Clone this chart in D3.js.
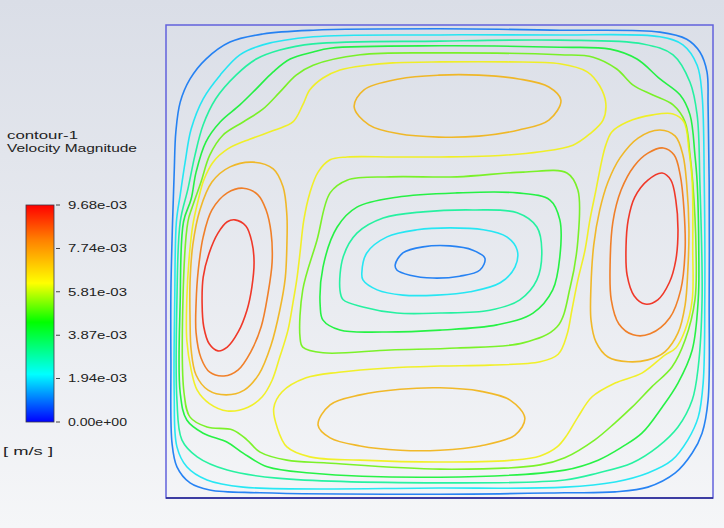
<!DOCTYPE html>
<html>
<head>
<meta charset="utf-8">
<script src="https://cdn.jsdelivr.net/npm/d3@7"></script>
<style>
  html, body { margin: 0; padding: 0; overflow: hidden; background: #eceef3; }
  svg { display: block; }
</style>
</head>
<body>
<svg id="chart" width="724" height="528"></svg>
<script>
// Velocity magnitude, values in units of 1e-3 m/s
const vMax = 9.68;
const contourLevels = [0.97, 2.02, 3.08, 4.13, 5.18, 6.24, 7.29, 8.34, 9.40];

// Colour map (fraction of range -> colour)
const colorStops = [0, 0.22, 0.46, 0.64, 0.84, 1];
const colorHex = ['#0000ff', '#00ffff', '#00ff00', '#ffff00', '#ff8000', '#ff0000'];

// Colour-bar ticks (1e-3 m/s)
const tickValues = [0, 1.94, 3.87, 5.81, 7.74, 9.68];

// Contour rings: [level index, points as [x %, y %] of the cavity, y measured from the bottom wall]
// Rings that follow the four walls
const wallRings = [
  [0, [[1.2,58.4],[1.5,68.9],[1.8,77.4],[2.6,83.7],[4.4,88.6],[7.3,92.8],[11.7,96.4],[17.7,98.1],[26.9,98.9],[50.1,99.2],[72.0,98.9],[90.3,98.5],[95.2,97.0],[97.6,94.3],[98.9,90.1],[99.1,83.1],[99.3,66.8],[99.3,41.9],[99.1,20.7],[98.0,13.7],[96.2,9.5],[93.1,5.3],[88.1,2.3],[82.1,1.3],[72.9,1.1],[50.1,0.8],[17.2,1.1],[8.0,1.7],[4.4,3.2],[2.0,6.6],[1.1,11.6],[0.9,29.2],[0.9,44.0]]],
  [1, [[1.9,58.4],[2.6,64.1],[3.5,71.0],[4.6,78.0],[6.8,84.4],[9.9,89.4],[13.5,93.7],[17.7,95.8],[26.9,97.5],[50.1,97.9],[72.0,97.9],[90.3,97.5],[94.5,95.8],[97.1,91.5],[98.0,85.2],[98.4,66.8],[98.5,41.9],[98.2,24.3],[97.3,17.1],[95.4,12.3],[92.5,8.0],[88.1,5.3],[82.1,3.4],[72.9,2.3],[50.1,2.1],[14.1,2.3],[7.5,3.8],[3.8,6.6],[2.0,10.8],[1.5,22.2],[1.6,41.9]]],
  [2, [[2.6,58.4],[4.0,65.3],[5.3,72.5],[6.8,78.9],[9.1,84.4],[12.8,89.4],[16.5,92.8],[20.8,94.7],[26.9,96.0],[50.1,96.6],[72.0,96.8],[87.2,96.0],[92.7,93.7],[95.8,87.9],[97.1,81.0],[97.6,66.8],[98.0,41.9],[97.3,27.7],[96.2,20.7],[93.6,15.0],[89.9,10.8],[85.2,7.4],[79.0,5.3],[72.9,3.8],[50.1,3.2],[20.3,4.2],[11.2,5.9],[5.7,8.7],[2.9,12.3],[2.0,20.7],[2.0,41.9]]],
  [3, [[3.2,58.4],[4.6,63.2],[5.5,68.9],[7.3,75.3],[9.9,79.5],[13.5,83.1],[16.5,86.5],[19.6,90.1],[22.7,92.8],[26.9,94.3],[30.0,95.1],[50.1,95.6],[72.0,95.3],[81.2,94.9],[86.1,92.8],[90.3,88.6],[94.0,85.2],[95.8,81.0],[96.7,72.5],[97.1,66.8],[97.4,52.4],[97.3,41.9],[96.2,31.3],[93.6,24.3],[90.7,19.2],[87.0,13.7],[83.4,10.8],[79.0,8.0],[72.9,5.9],[50.1,4.4],[26.3,5.3],[18.5,6.6],[14.1,9.5],[11.2,11.8],[6.8,13.7],[3.8,16.5],[2.6,22.2],[2.6,41.9]]],
  [4, [[4.0,58.4],[4.8,61.5],[6.4,66.8],[8.0,72.5],[10.4,76.7],[14.1,79.5],[17.7,82.2],[20.8,85.8],[23.8,89.4],[26.9,91.5],[35.5,93.7],[50.1,94.1],[72.0,93.7],[78.1,93.2],[82.4,90.7],[85.4,87.3],[89.0,85.2],[92.7,83.1],[94.9,79.5],[95.8,72.5],[96.3,66.8],[96.9,52.4],[96.7,41.9],[94.9,33.4],[92.5,27.7],[88.8,23.5],[85.2,19.2],[82.1,15.9],[78.4,12.3],[72.9,8.5],[68.4,7.0],[50.1,6.1],[29.4,7.4],[22.1,8.0],[17.2,9.7],[14.8,12.3],[12.2,14.4],[7.5,15.0],[4.4,17.1],[3.3,22.2],[3.1,41.9]]]
];

// Rings around the slow core of the cavity
const coreRings = [
  [0, [[41.9,49.3],[43.3,51.8],[47.0,53.1],[51.9,53.3],[56.1,52.4],[58.3,50.7],[57.4,48.2],[53.7,46.9],[48.8,46.5],[44.6,47.1],[42.2,48.2]]],
  [1, [[35.8,47.6],[36.7,51.8],[40.4,55.2],[45.9,56.7],[51.9,57.1],[58.0,56.7],[62.3,55.2],[64.2,52.4],[63.8,48.8],[61.1,45.5],[55.6,43.6],[49.5,42.9],[43.3,42.9],[38.6,44.0],[36.0,46.1]]],
  [2, [[31.8,44.0],[32.4,51.0],[34.9,56.0],[39.7,59.2],[47.0,60.5],[56.1,60.9],[64.2,60.3],[67.8,57.3],[68.7,52.4],[67.8,46.1],[64.7,41.9],[59.2,39.7],[50.1,39.1],[42.2,39.1],[36.0,40.4],[32.4,41.9]]],
  [3, [[28.2,40.4],[28.7,48.8],[31.3,57.3],[34.9,61.5],[42.2,63.6],[53.2,64.5],[64.2,64.5],[70.2,63.0],[72.0,58.8],[72.0,51.0],[70.7,44.0],[67.1,39.1],[60.5,36.6],[50.1,35.5],[39.7,35.1],[31.8,35.5],[28.7,37.6]]],
  [4, [[24.5,34.0],[25.0,44.0],[27.6,54.5],[30.0,64.5],[33.1,67.2],[41.0,67.9],[53.2,67.9],[65.3,68.9],[73.3,68.7],[75.3,65.1],[75.3,54.5],[73.9,44.6],[71.5,36.2],[65.3,32.8],[53.2,31.7],[41.0,31.3],[28.7,30.7],[25.0,31.9]]]
];

// Level-6 loops joining the fast jets (top + left wall, bottom + right wall)
const jetLoops = [
  [5, [[25.0,83.1],[26.3,86.3],[28.7,88.8],[31.8,90.5],[36.7,91.5],[41.5,92.0],[50.1,92.2],[62.3,92.2],[72.0,91.8],[77.0,90.1],[79.3,87.1],[80.4,83.5],[79.9,79.9],[77.5,77.0],[74.4,74.6],[68.4,73.2],[59.2,72.3],[50.1,72.1],[41.5,72.1],[33.1,72.1],[30.0,71.5],[27.8,68.9],[26.3,64.5],[25.2,58.8],[24.5,51.8],[23.9,46.1],[23.2,41.2],[22.3,35.5],[20.8,29.8],[19.4,24.9],[17.6,21.4],[15.0,19.2],[11.2,18.4],[8.0,19.9],[5.7,22.8],[4.6,27.1],[3.8,33.4],[3.8,41.9],[4.2,50.3],[4.9,57.7],[5.9,63.0],[6.9,67.2],[8.6,71.0],[11.3,73.8],[15.4,75.9],[19.9,77.8],[23.2,79.5]]],
  [5, [[81.5,77.4],[84.3,79.5],[89.0,81.0],[92.7,81.2],[94.7,79.5],[95.6,73.6],[96.2,66.8],[96.3,52.4],[96.2,41.9],[94.9,35.5],[93.2,31.7],[91.2,30.2],[87.0,26.4],[82.1,24.3],[77.9,21.4],[75.3,17.1],[73.3,13.3],[71.5,10.8],[68.4,8.9],[63.3,8.0],[50.1,7.6],[35.5,8.0],[26.3,8.7],[22.1,10.8],[20.3,15.0],[19.7,19.0],[21.2,22.4],[25.6,25.4],[31.6,26.6],[40.8,27.5],[50.1,27.9],[59.2,28.1],[68.4,28.8],[71.7,30.4],[73.3,34.5],[74.2,39.7],[75.3,46.1],[76.6,52.4],[77.5,58.8],[78.6,65.1],[79.7,71.5],[80.4,74.6]]]
];

// Closed cores of the four jets
const jetCores = [
  // top jet
  [6, [[72.2,84.1],[70.0,79.9],[64.5,77.8],[57.2,76.5],[49.9,76.3],[42.6,77.0],[37.1,78.9],[34.4,82.7],[36.2,86.3],[42.6,88.6],[49.9,89.4],[57.2,89.4],[64.5,88.6],[70.0,86.9]]],
  // bottom jet
  [6, [[27.8,15.4],[30.0,19.7],[35.5,21.8],[42.8,23.0],[50.1,23.3],[57.4,22.6],[62.9,20.7],[65.6,16.9],[63.8,13.3],[57.4,11.0],[50.1,10.1],[42.8,10.1],[35.5,11.0],[30.0,12.7]]],
  // left jet
  [6, [[15.9,71.0],[19.6,69.6],[21.4,65.8],[22.1,59.8],[22.1,53.5],[21.8,46.5],[20.8,39.7],[19.2,32.3],[17.0,26.2],[14.3,22.8],[11.0,21.8],[7.7,22.8],[5.5,26.0],[4.6,31.3],[4.4,37.6],[4.4,45.7],[4.9,53.5],[6.2,60.9],[8.4,66.8],[11.7,70.0]]],
  [7, [[14.1,65.5],[16.8,64.1],[18.3,60.9],[19.2,56.2],[19.4,49.9],[18.6,42.9],[17.4,36.2],[15.5,30.9],[13.2,27.1],[10.6,25.8],[8.0,26.6],[6.4,29.6],[5.5,34.9],[5.5,41.2],[5.9,48.2],[6.8,55.2],[8.4,60.9],[11.2,64.5]]],
  [8, [[12.6,58.8],[14.6,57.5],[15.7,54.1],[16.1,49.9],[15.7,44.6],[14.8,39.7],[13.2,35.1],[11.2,31.9],[9.5,31.1],[7.9,32.6],[6.9,36.2],[6.6,41.2],[6.8,46.7],[7.9,51.8],[9.5,56.0],[11.2,58.4]]],
  // right jet
  [6, [[90.3,77.8],[93.1,76.5],[94.5,72.5],[95.2,66.2],[95.6,56.9],[95.4,48.2],[94.9,40.8],[93.6,34.9],[91.2,30.9],[88.1,29.2],[84.5,28.8],[80.8,29.8],[78.6,33.0],[77.7,37.6],[77.7,45.0],[78.2,53.5],[79.3,60.9],[80.8,66.8],[83.0,71.9],[86.3,76.1]]],
  [7, [[90.9,74.0],[92.9,72.5],[94.0,68.3],[94.7,60.9],[94.9,52.4],[94.1,44.0],[92.1,38.1],[88.5,34.7],[85.4,34.5],[82.8,36.8],[81.4,41.9],[81.2,49.9],[81.7,58.4],[83.2,65.1],[85.6,70.2],[88.1,72.9]]],
  [8, [[90.7,68.7],[92.3,67.2],[93.2,63.0],[93.6,56.7],[93.2,50.3],[92.0,45.5],[89.9,41.9],[87.6,41.0],[85.6,42.7],[84.3,47.1],[84.1,53.1],[84.5,58.8],[85.7,63.6],[88.1,67.2]]]
];

// ---------------------------------------------------------------------------
const svg = d3.select('#chart');
const W = 724, H = 528;

const defs = svg.append('defs');
const bg = defs.append('linearGradient').attr('id', 'bg')
  .attr('x1', 0).attr('y1', 0).attr('x2', 0).attr('y2', 1);
bg.append('stop').attr('offset', '0%').attr('stop-color', '#dadee7');
bg.append('stop').attr('offset', '100%').attr('stop-color', '#f5f6f8');
svg.append('rect').attr('width', W).attr('height', H).attr('fill', 'url(#bg)');

const color = d3.scaleLinear()
  .domain(colorStops.map(s => s * vMax))
  .range(colorHex)
  .interpolate(d3.interpolateRgb)
  .clamp(true);

// Cavity
const plot = { left: 166, right: 713, top: 25, bottom: 498 };
const x = d3.scaleLinear().domain([0, 100]).range([plot.left, plot.right]);
const y = d3.scaleLinear().domain([0, 100]).range([plot.bottom, plot.top]);

const ring = d3.line()
  .x(d => x(d[0]))
  .y(d => y(d[1]))
  .curve(d3.curveCatmullRomClosed.alpha(0.5));

// Contour lines are drawn slightly softened against the background
const lineColor = v => d3.interpolateRgb(color(v), '#8a8f9c')(0.12);

const allRings = [...wallRings, ...coreRings, ...jetLoops, ...jetCores];
svg.append('g').attr('class', 'contours')
  .selectAll('path')
  .data(allRings)
  .join('path')
  .attr('d', d => ring(d[1]))
  .attr('fill', 'none')
  .attr('stroke', d => lineColor(contourLevels[d[0]]))
  .attr('stroke-width', 1.6)
  .attr('stroke-opacity', 0.9)
  .attr('stroke-linejoin', 'round');

// Cavity walls
svg.append('rect')
  .attr('x', x(0)).attr('y', y(100))
  .attr('width', x(100) - x(0)).attr('height', y(0) - y(100))
  .attr('fill', 'none').attr('stroke', '#6262dc').attr('stroke-width', 1.5);
svg.append('line')
  .attr('x1', x(0)).attr('x2', x(100)).attr('y1', y(0)).attr('y2', y(0))
  .attr('stroke', '#24248c').attr('stroke-width', 1.6);

// Legend
const legend = svg.append('g').attr('font-family', 'Liberation Sans, Arial, sans-serif').attr('fill', '#222');
legend.append('text').attr('x', 7).attr('y', 139).attr('font-size', 11.5)
  .attr('textLength', 71).attr('lengthAdjust', 'spacingAndGlyphs').text('contour-1');
legend.append('text').attr('x', 7).attr('y', 152).attr('font-size', 11.5)
  .attr('textLength', 130).attr('lengthAdjust', 'spacingAndGlyphs').text('Velocity Magnitude');

const cb = { x: 26, w: 28, top: 205, bottom: 422 };
const cy = d3.scaleLinear().domain([0, vMax]).range([cb.bottom, cb.top]);

const grad = defs.append('linearGradient').attr('id', 'cbar')
  .attr('x1', 0).attr('y1', 1).attr('x2', 0).attr('y2', 0);
grad.selectAll('stop').data(colorStops).join('stop')
  .attr('offset', d => (d * 100) + '%')
  .attr('stop-color', (d, i) => colorHex[i]);

legend.append('rect')
  .attr('x', cb.x).attr('y', cy(vMax))
  .attr('width', cb.w).attr('height', cy(0) - cy(vMax))
  .attr('fill', 'url(#cbar)')
  .attr('stroke', '#3a3a4a').attr('stroke-width', 0.8);

// Tick values are in 1e-3 m/s; labels show m/s in e-notation
const fmt = v => {
  const [m, e] = (v * 1e-3).toExponential(2).split('e');
  const n = v === 0 ? 0 : parseInt(e, 10);
  return m + 'e' + (n < 0 ? '-' : '+') + String(Math.abs(n)).padStart(2, '0');
};

const ticks = legend.selectAll('g.tick').data(tickValues).join('g').attr('class', 'tick')
  .attr('transform', d => `translate(0,${cy(d)})`);
ticks.append('line').attr('x1', cb.x + cb.w + 2).attr('x2', cb.x + cb.w + 6)
  .attr('stroke', '#444').attr('stroke-width', 1);
ticks.append('text').attr('x', 68).attr('dy', '0.36em').attr('font-size', 11)
  .attr('textLength', 59).attr('lengthAdjust', 'spacingAndGlyphs')
  .text(d => fmt(d));

legend.append('text').attr('x', 3).attr('y', 455).attr('font-size', 11)
  .attr('textLength', 50).attr('lengthAdjust', 'spacingAndGlyphs').text('[ m/s ]');
</script>
</body>
</html>
